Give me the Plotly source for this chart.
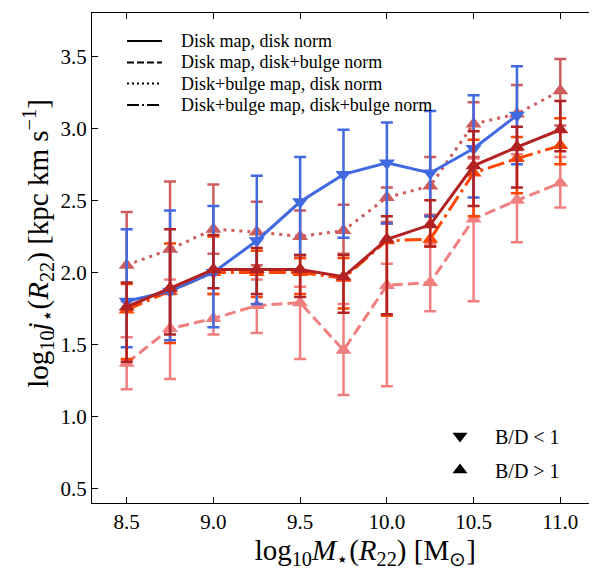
import plotly.graph_objects as go

# ---------------- data ----------------
mass = [8.5, 8.75, 9.0, 9.25, 9.5, 9.75, 10.0, 10.25, 10.5, 10.75, 11.0]

# B/D < 1, disk map, disk norm (blue)
lt1_val = [1.80, 1.87, 2.00, 2.22, 2.49, 2.68, 2.76, 2.69, 2.86, 3.09]
lt1_hi = [2.30, 2.43, 2.46, 2.67, 2.80, 2.99, 3.04, 3.12, 3.23, 3.43]
lt1_lo = [1.48, 1.53, 1.62, 1.78, 2.12, 2.24, 2.34, 2.39, 2.52, 2.75]

# B/D > 1, disk map, disk norm (firebrick, solid)
dd_val = [1.76, 1.89, 2.02, 2.02, 2.02, 1.97, 2.23, 2.33, 2.74, 2.87, 2.99]
dd_hi = [1.93, 2.30, 2.26, 2.17, 2.12, 2.12, 2.39, 2.50, 2.98, 3.01, 3.19]
dd_lo = [1.38, 1.57, 1.89, 1.85, 1.83, 1.72, 1.71, 2.18, 2.46, 2.59, 2.84]

# B/D > 1, disk+bulge map, disk+bulge norm (orangered, dash-dot)
bb_val = [1.74, 1.87, 2.00, 2.00, 2.00, 1.96, 2.22, 2.23, 2.69, 2.79, 2.88]
bb_hi = [1.92, 2.20, 2.25, 2.15, 2.10, 2.10, 2.34, 2.39, 2.92, 2.94, 3.07]
bb_lo = [1.40, 1.51, 1.85, 1.83, 1.85, 1.75, 1.70, 2.18, 2.39, 2.55, 2.75]

# B/D > 1, disk map, disk+bulge norm (lightcoral, dashed)
db_val = [1.37, 1.61, 1.68, 1.77, 1.79, 1.46, 1.91, 1.93, 2.37, 2.50, 2.62]
db_hi = [1.55, 1.95, 1.85, 1.95, 1.90, 1.78, 2.06, 2.20, 2.79, 2.82, 2.80]
db_lo = [1.19, 1.26, 1.57, 1.58, 1.40, 1.15, 1.21, 1.73, 1.80, 2.21, 2.45]

# B/D > 1, disk+bulge map, disk norm (indianred, dotted)
bd_val = [2.05, 2.16, 2.30, 2.28, 2.25, 2.29, 2.52, 2.60, 3.03, 3.10, 3.26]
bd_hi = [2.42, 2.63, 2.61, 2.49, 2.43, 2.47, 2.59, 2.80, 3.18, 3.30, 3.48]
bd_lo = [1.80, 1.85, 2.13, 2.05, 2.10, 2.13, 2.35, 2.40, 2.80, 2.85, 3.02]

x_ticks = [8.5, 9.0, 9.5, 10.0, 10.5, 11.0]
y_ticks = [0.5, 1.0, 1.5, 2.0, 2.5, 3.0, 3.5]

legend_styles = ["Disk map, disk norm", "Disk map, disk+bulge norm",
                 "Disk+bulge map, disk norm", "Disk+bulge map, disk+bulge norm"]
legend_dashes = ["solid", "7px,3px", "2px,3px", "12px,3px,2px,3px"]

FONT = "Liberation Serif, Times New Roman, serif"

fig = go.Figure()


def add_series(val, hi, lo, color, dash, symbol):
    xs = mass[:len(val)]
    plus = [h - v for h, v in zip(hi, val)]
    minus = [v - l for v, l in zip(val, lo)]
    fig.add_trace(go.Scatter(
        x=xs, y=val, mode="lines+markers", showlegend=False,
        line=dict(color=color, width=3, dash=dash),
        marker=dict(symbol=symbol, size=14, color=color),
        error_y=dict(type="data", symmetric=False, array=plus, arrayminus=minus,
                     color=color, thickness=2.5, width=6),
    ))


add_series(db_val, db_hi, db_lo, "#F08080", "11px,5px", "triangle-up")
add_series(bd_val, bd_hi, bd_lo, "#CD5C5C", "3px,5px", "triangle-up")
add_series(bb_val, bb_hi, bb_lo, "#FF4500", "17px,5px,3px,5px", "triangle-up")
add_series(lt1_val, lt1_hi, lt1_lo, "#4169E1", "solid", "triangle-down")
add_series(dd_val, dd_hi, dd_lo, "#B22222", "solid", "triangle-up")

# legend 1 (line styles): key lines + labels in the top-left corner
row_y = [0.943, 0.899, 0.856, 0.812]
for name, dash, yy in zip(legend_styles, legend_dashes, row_y):
    fig.add_shape(type="line", xref="paper", yref="paper",
                  x0=0.0696, x1=0.139, y0=yy, y1=yy,
                  line=dict(color="black", width=2, dash=dash))
    fig.add_annotation(xref="paper", yref="paper", x=0.172, y=yy,
                       xanchor="left", yanchor="middle", showarrow=False,
                       text=name, font=dict(family=FONT, size=18, color="black"))

# legend 2: markers
fig.add_trace(go.Scatter(x=[None], y=[None], mode="markers", name="B/D &lt; 1",
                         marker=dict(symbol="triangle-down", size=13, color="black"),
                         legend="legend2", legendgroup="a"))
fig.add_trace(go.Scatter(x=[None], y=[None], mode="markers", name="B/D &gt; 1",
                         marker=dict(symbol="triangle-up", size=13, color="black"),
                         legend="legend2", legendgroup="b"))

axis_common = dict(showline=True, linecolor="black", linewidth=1.3, mirror="allticks",
                   ticks="inside", ticklen=6, tickwidth=1, tickcolor="black",
                   showgrid=False, zeroline=False, automargin=False,
                   tickfont=dict(family=FONT, size=21, color="black"))

# page body has an 8px margin: the figure is sized so the plot area lands where
# the reference axes are within the 597x571 window
fig.update_layout(
    width=589, height=563,
    margin=dict(l=84, r=2, t=5, b=68),
    paper_bgcolor="white", plot_bgcolor="white",
    font=dict(family=FONT, color="black"),
    showlegend=True,
    xaxis=dict(range=[8.3, 11.2], tickvals=x_ticks,
               ticktext=[f"{v:.1f}" for v in x_ticks],
               title=dict(text="&#8194;&#8194;&#8194;log<sub>10</sub><i>M</i><sub>⋆</sub>(<i>R</i><sub>22</sub>) [M<sub>⊙</sub>]",
                          font=dict(family=FONT, size=29), standoff=0),
               **axis_common),
    yaxis=dict(range=[0.4, 3.8], tickvals=y_ticks,
               ticktext=[f"{v:.1f}" for v in y_ticks],
               title=dict(text="&#8194;&#8194;log<sub>10</sub><i>j</i><sub>⋆</sub>(<i>R</i><sub>22</sub>) [kpc km s<sup>−1</sup>]",
                          font=dict(family=FONT, size=29), standoff=3),
               **axis_common),
    legend2=dict(x=0.662, y=0.1765, xanchor="left", yanchor="top",
                 bgcolor="rgba(0,0,0,0)", font=dict(family=FONT, size=20),
                 tracegroupgap=5, itemwidth=60),
)

fig.write_html("out.html")
